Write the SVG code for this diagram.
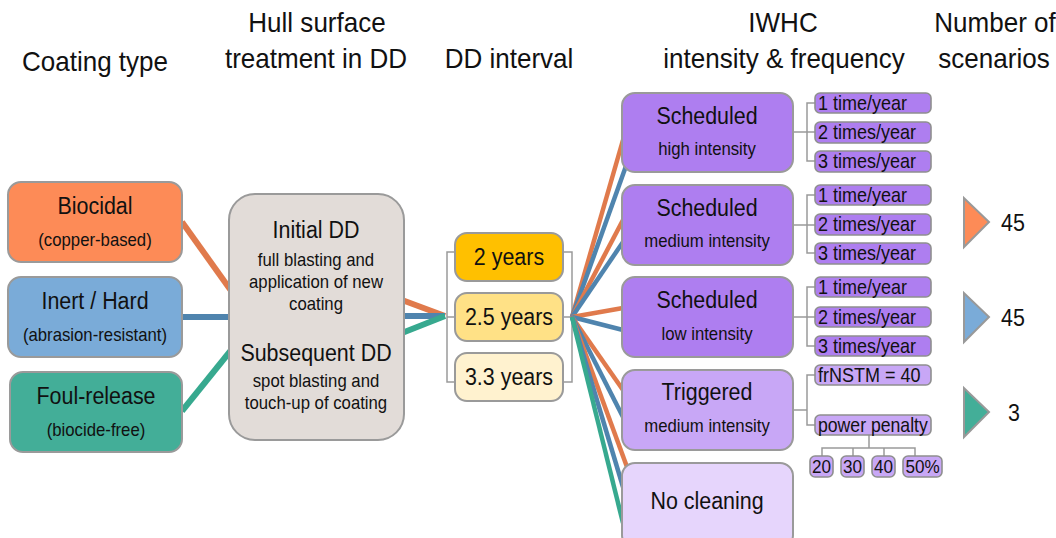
<svg xmlns="http://www.w3.org/2000/svg" width="1056" height="538" viewBox="0 0 1056 538">
<style>
text{font-family:"Liberation Sans",Arial,sans-serif;fill:#111;text-anchor:middle}
.h{font-size:28px}
.t1{font-size:24.5px}
.t2{font-size:18px}
.t3{font-size:24.5px}
.box{stroke:#9a9a9a;stroke-width:2}
.sub{stroke:#8f8f8f;stroke-width:1.6}
.st{font-size:20px;text-anchor:start}
.sn{font-size:19px}
.br{fill:none;stroke:#9a9a9a;stroke-width:1.5}
.or{stroke:#e07a4c}
.bl{stroke:#4f84ae}
.te{stroke:#37a98f}
.thick{stroke-width:6;fill:none}
.fan{stroke-width:4.5;fill:none}
.s1{fill:#ae7ef0}
.s2{fill:#c8a7f6}
.s3{fill:#e6d5fc}
.tri{stroke:#999;stroke-width:2}
</style>
<g id="headers">
<text class="h" transform="translate(95 71) scale(.93 1)">Coating type</text>
<text class="h" transform="translate(317 32) scale(.93 1)">Hull surface</text>
<text class="h" transform="translate(316 68) scale(.93 1)">treatment in DD</text>
<text class="h" transform="translate(509 68) scale(.93 1)">DD interval</text>
<text class="h" transform="translate(783 32) scale(.93 1)">IWHC</text>
<text class="h" transform="translate(784 68) scale(.93 1)">intensity &amp; frequency</text>
<text class="h" transform="translate(995 32) scale(.93 1)">Number of</text>
<text class="h" transform="translate(994 68) scale(.93 1)">scenarios</text>
</g>
<g id="connectors">
<line class="thick or" x1="182" y1="222" x2="232" y2="292"/>
<line class="thick bl" x1="182" y1="317" x2="232" y2="317"/>
<line class="thick te" x1="182" y1="411" x2="232" y2="349"/>
<line class="thick or" x1="402" y1="300" x2="445" y2="316"/>
<line class="thick bl" x1="402" y1="316" x2="445" y2="316"/>
<line class="thick te" x1="402" y1="333" x2="445" y2="316"/>
<path class="br" d="M455 252H447V382H455M447 317H455"/>
<path class="br" d="M563 252H572V382H563M563 317H572"/>
<line class="fan or" x1="572" y1="317" x2="623" y2="140"/>
<line class="fan bl" x1="572" y1="317" x2="626" y2="166"/>
<line class="fan or" x1="572" y1="317" x2="623" y2="220"/>
<line class="fan bl" x1="572" y1="317" x2="623" y2="242"/>
<line class="fan or" x1="572" y1="317" x2="623" y2="308"/>
<line class="fan bl" x1="572" y1="317" x2="623" y2="330"/>
<line class="fan or" x1="572" y1="317" x2="623" y2="390"/>
<line class="fan bl" x1="572" y1="317" x2="623" y2="417"/>
<line class="fan or" x1="572" y1="317" x2="627" y2="467"/>
<line class="fan bl" x1="572" y1="317" x2="623" y2="487"/>
<line class="fan te" x1="572" y1="317" x2="623" y2="523"/>
<path class="br" d="M793 132H807M815 103H807V161H815M807 132H815"/>
<path class="br" d="M793 225H807M815 195H807V253H815M807 225H815"/>
<path class="br" d="M793 317H807M815 287H807V346H815M807 317H815"/>
<path class="br" d="M793 410H807M815 375H807V425H815"/>
<path class="br" d="M869 435V448M822 456V448H915V456M853 448V456M884 448V456"/>
</g>
<g id="biocidal"><rect class="box" x="8" y="182" width="174" height="80" rx="13" fill="#fd8b57"/>
<text class="t1" transform="translate(95 214) scale(.875 1)">Biocidal</text><text class="t2" transform="translate(95 246) scale(.93 1)">(copper-based)</text></g>
<g id="inert"><rect class="box" x="8" y="277" width="174" height="80" rx="13" fill="#7aabd8"/>
<text class="t1" transform="translate(95 309) scale(.875 1)">Inert / Hard</text><text class="t2" transform="translate(95 341) scale(.93 1)">(abrasion-resistant)</text></g>
<g id="foul"><rect class="box" x="10" y="372" width="172" height="80" rx="13" fill="#43ae98"/>
<text class="t1" transform="translate(96 404) scale(.875 1)">Foul-release</text><text class="t2" transform="translate(96 436) scale(.93 1)">(biocide-free)</text></g>
<g id="hull"><rect class="box" x="229" y="194" width="175" height="246" rx="26" fill="#e2dcd8"/>
<text class="t1" transform="translate(316 238) scale(.875 1)">Initial DD</text>
<text class="t2" transform="translate(316 266) scale(.93 1)">full blasting and</text>
<text class="t2" transform="translate(316 288) scale(.93 1)">application of new</text>
<text class="t2" transform="translate(316 310) scale(.93 1)">coating</text>
<text class="t1" transform="translate(316 361) scale(.875 1)">Subsequent DD</text>
<text class="t2" transform="translate(316 387) scale(.93 1)">spot blasting and</text>
<text class="t2" transform="translate(316 409) scale(.93 1)">touch-up of coating</text></g>
<g id="y2"><rect class="box" x="455" y="233" width="108" height="48" rx="12" fill="#ffc000"/><text class="t1" transform="translate(509 265) scale(.875 1)">2 years</text></g>
<g id="y25"><rect class="box" x="455" y="293" width="108" height="48" rx="12" fill="#ffe186"/><text class="t1" transform="translate(509 325) scale(.875 1)">2.5 years</text></g>
<g id="y33"><rect class="box" x="455" y="353" width="108" height="48" rx="12" fill="#fff2cf"/><text class="t1" transform="translate(509 385) scale(.875 1)">3.3 years</text></g>
<g id="sched-high"><rect class="box s1" x="622" y="93" width="171" height="79" rx="13"/>
<text class="t3" transform="translate(707 124) scale(.875 1)">Scheduled</text><text class="t2" transform="translate(707 155) scale(.93 1)">high intensity</text></g>
<g id="sched-med"><rect class="box s1" x="622" y="185" width="171" height="80" rx="13"/>
<text class="t3" transform="translate(707 216) scale(.875 1)">Scheduled</text><text class="t2" transform="translate(707 247) scale(.93 1)">medium intensity</text></g>
<g id="sched-low"><rect class="box s1" x="622" y="277" width="171" height="80" rx="13"/>
<text class="t3" transform="translate(707 308) scale(.875 1)">Scheduled</text><text class="t2" transform="translate(707 340) scale(.93 1)">low intensity</text></g>
<g id="triggered"><rect class="box s2" x="622" y="370" width="171" height="80" rx="13"/>
<text class="t3" transform="translate(707 400) scale(.875 1)">Triggered</text><text class="t2" transform="translate(707 432) scale(.93 1)">medium intensity</text></g>
<g id="nocleaning"><rect class="box s3" x="622" y="463" width="171" height="85" rx="13"/>
<text class="t3" transform="translate(707 509) scale(.875 1)">No cleaning</text></g>
<g id="f1a"><rect class="sub s1" x="815" y="93" width="116" height="20" rx="5"/><text class="st" transform="translate(818 110) scale(.9 1)">1 time/year</text></g>
<g id="f1b"><rect class="sub s1" x="815" y="122" width="116" height="21" rx="5"/><text class="st" transform="translate(818 139) scale(.9 1)">2 times/year</text></g>
<g id="f1c"><rect class="sub s1" x="815" y="151" width="116" height="21" rx="5"/><text class="st" transform="translate(818 168) scale(.9 1)">3 times/year</text></g>
<g id="f2a"><rect class="sub s1" x="815" y="185" width="116" height="20" rx="5"/><text class="st" transform="translate(818 202) scale(.9 1)">1 time/year</text></g>
<g id="f2b"><rect class="sub s1" x="815" y="214" width="116" height="21" rx="5"/><text class="st" transform="translate(818 231) scale(.9 1)">2 times/year</text></g>
<g id="f2c"><rect class="sub s1" x="815" y="243" width="116" height="21" rx="5"/><text class="st" transform="translate(818 260) scale(.9 1)">3 times/year</text></g>
<g id="f3a"><rect class="sub s1" x="815" y="277" width="116" height="20" rx="5"/><text class="st" transform="translate(818 294) scale(.9 1)">1 time/year</text></g>
<g id="f3b"><rect class="sub s1" x="815" y="307" width="116" height="20" rx="5"/><text class="st" transform="translate(818 324) scale(.9 1)">2 times/year</text></g>
<g id="f3c"><rect class="sub s1" x="815" y="336" width="116" height="20" rx="5"/><text class="st" transform="translate(818 353) scale(.9 1)">3 times/year</text></g>
<g id="frnstm"><rect class="sub s2" x="815" y="365" width="116" height="20" rx="5"/><text class="st" transform="translate(818 382) scale(.9 1)">frNSTM = 40</text></g>
<g id="penalty"><rect class="sub s2" x="815" y="415" width="116" height="20" rx="5"/><text class="st" transform="translate(818 432) scale(.9 1)" textLength="122" lengthAdjust="spacingAndGlyphs">power penalty</text></g>
<g id="p20"><rect class="sub s2" x="810" y="456" width="23" height="21" rx="5"/><text class="sn" transform="translate(821.5 473) scale(.9 1)">20</text></g>
<g id="p30"><rect class="sub s2" x="841" y="456" width="23" height="21" rx="5"/><text class="sn" transform="translate(852.5 473) scale(.9 1)">30</text></g>
<g id="p40"><rect class="sub s2" x="872" y="456" width="23" height="21" rx="5"/><text class="sn" transform="translate(883.5 473) scale(.9 1)">40</text></g>
<g id="p50"><rect class="sub s2" x="903" y="456" width="39" height="21" rx="5"/><text class="sn" transform="translate(922.5 473) scale(.9 1)">50%</text></g>
<g id="n-biocidal"><polygon class="tri" points="964,198 964,247 989,222" fill="#fd8b57"/><text class="t1" transform="translate(1013 231) scale(.875 1)">45</text></g>
<g id="n-inert"><polygon class="tri" points="964,293 964,342 989,317" fill="#7aabd8"/><text class="t1" transform="translate(1013 326) scale(.875 1)">45</text></g>
<g id="n-foul"><polygon class="tri" points="964,388 964,437 989,412" fill="#43ae98"/><text class="t1" transform="translate(1014 421) scale(.875 1)">3</text></g>
</svg>
